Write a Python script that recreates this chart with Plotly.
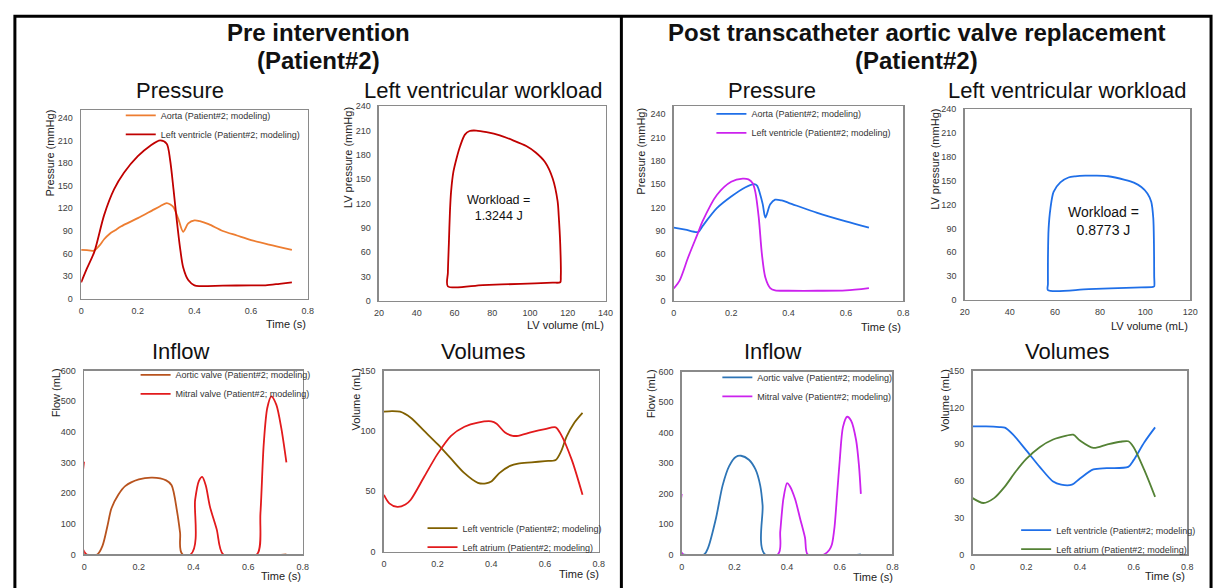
import plotly.graph_objects as go

W, H = 1224, 588
FONT = "Liberation Sans, Arial, Helvetica, sans-serif"

# ---------------- DATA ----------------
# Pre intervention - Pressure (mmHg) vs time (s)
pre_aorta_t = [0, 0.02, 0.045, 0.065, 0.081, 0.1, 0.12, 0.14, 0.2, 0.25, 0.28, 0.302, 0.315, 0.326, 0.343, 0.36, 0.378, 0.4, 0.419, 0.45, 0.5, 0.55, 0.6, 0.663, 0.744]
pre_aorta_p = [65, 64.5, 64, 71, 79, 86, 91, 96, 107, 117, 123, 127, 125, 121.5, 106, 89, 100, 104, 103, 99, 90, 84, 78, 72, 65]
pre_lv_t = [0, 0.02, 0.047, 0.081, 0.116, 0.151, 0.2, 0.244, 0.279, 0.302, 0.314, 0.326, 0.337, 0.349, 0.36, 0.378, 0.4, 0.42, 0.5, 0.6, 0.651, 0.7, 0.744]
pre_lv_p = [22, 40, 63, 111, 145, 167, 189, 203, 210, 205.6, 184, 145, 106, 68, 42, 25, 18, 17, 17.5, 18, 18, 20, 22]

# Pre intervention - LV pressure-volume loop
pre_loop_v = [56.5, 75, 95, 112, 116, 116.3, 116, 115.2, 114.6, 112, 108, 103, 98, 91, 84, 77, 71.5, 68, 65.5, 63, 61, 59.4, 58.2, 57.6, 57, 56.5, 56.5]
pre_loop_p = [18, 19.5, 21, 22.5, 23, 30, 70, 105, 123, 151, 171, 183, 191, 198, 204, 208, 210, 209.5, 205, 191, 175, 159, 135, 111, 70, 35, 18]
pre_workload = "1.3244 J"

# Pre intervention - Inflow (mL)
pre_av_t = [0, 0.048, 0.067, 0.085, 0.1, 0.125, 0.15, 0.2, 0.25, 0.3, 0.32, 0.34, 0.351, 0.36, 0.74]
pre_av_q = [0, 0, 28, 92, 151, 195, 223, 245, 251, 242, 226, 140, 71, 0, 0]
pre_mv_t = [0, 0.008, 0.39, 0.406, 0.42, 0.432, 0.445, 0.46, 0.485, 0.509, 0.632, 0.645, 0.657, 0.67, 0.685, 0.703, 0.721, 0.74]
pre_mv_q = [303, 0, 0, 178, 240, 253, 225, 157, 82, 0, 0, 135, 360, 478, 516, 489, 414, 301]

# Pre intervention - Volumes (mL)
pre_vol_lv_t = [0, 0.03, 0.06, 0.1, 0.15, 0.2, 0.25, 0.3, 0.35, 0.38, 0.4, 0.43, 0.47, 0.5, 0.55, 0.6, 0.64, 0.66, 0.68, 0.71, 0.74]
pre_vol_lv = [116, 116.5, 116, 111, 100, 89, 77, 65, 57, 56.5, 58, 65, 71, 73, 74, 75, 76, 83, 95, 107, 115]
pre_vol_la_t = [0, 0.02, 0.05, 0.08, 0.1, 0.15, 0.2, 0.25, 0.3, 0.35, 0.4, 0.42, 0.45, 0.48, 0.5, 0.55, 0.6, 0.64, 0.66, 0.7, 0.74]
pre_vol_la = [47, 40, 37, 39, 43, 62, 81, 96, 103.5, 107, 108, 106, 99, 96, 96, 99, 101.5, 103, 97, 76, 47]

# Post TAVR - Pressure
post_aorta_t = [0, 0.04, 0.085, 0.1, 0.15, 0.2, 0.25, 0.28, 0.29, 0.3, 0.31, 0.319, 0.336, 0.353, 0.376, 0.4, 0.5, 0.6, 0.68]
post_aorta_p = [94, 91.5, 88.5, 96, 119, 134, 146, 150, 148, 138, 124, 107, 124, 130, 129, 126, 113, 102, 94]
post_lv_t = [0, 0.02, 0.05, 0.085, 0.1, 0.15, 0.2, 0.24, 0.26, 0.275, 0.284, 0.296, 0.307, 0.319, 0.336, 0.353, 0.4, 0.5, 0.6, 0.68]
post_lv_p = [16, 26, 56, 88, 102, 136, 153, 157, 156, 151, 140, 107, 60, 30, 16.5, 13.5, 13, 13, 13.5, 16.5]

# Post TAVR - LV pressure-volume loop
post_loop_v = [56.9, 75, 95, 103.5, 104, 104, 103.9, 103.6, 102.7, 101, 98.3, 95, 91, 83.6, 78, 73.4, 69, 66, 62.4, 59.4, 58, 57.2, 56.9, 56.9, 56.9]
post_loop_p = [12.3, 13.5, 15.5, 16.3, 17, 30, 70, 103, 123.5, 134, 142, 147.5, 151, 155.6, 156.4, 156.4, 155.5, 154, 148, 136, 115, 90, 50, 20, 12.3]
post_workload = "0.8773 J"

# Post TAVR - Inflow
post_av_t = [0, 0.085, 0.1, 0.13, 0.155, 0.18, 0.205, 0.225, 0.255, 0.28, 0.298, 0.307, 0.316, 0.68]
post_av_q = [0, 0, 22, 119, 226, 290, 320, 324, 311, 279, 226, 161, 0, 0]
post_mv_t = [0, 0.005, 0.365, 0.374, 0.386, 0.4, 0.41, 0.43, 0.449, 0.468, 0.478, 0.54, 0.56, 0.57, 0.58, 0.59, 0.6, 0.612, 0.628, 0.643, 0.662, 0.673, 0.68]
post_mv_q = [199, 0, 0, 76, 183, 234, 225, 183, 119, 55, 0, 0, 15, 33, 90, 200, 311, 418, 452, 439, 375, 290, 199]

# Post TAVR - Volumes
post_vol_lv_t = [0, 0.05, 0.1, 0.12, 0.15, 0.2, 0.25, 0.3, 0.33, 0.37, 0.4, 0.45, 0.5, 0.58, 0.6, 0.64, 0.68]
post_vol_lv = [104.5, 104.5, 104, 103.5, 98, 85, 71.5, 59.5, 57, 57, 62, 69.4, 70.4, 71.5, 77, 91.6, 103.7]
post_vol_la_t = [0, 0.04, 0.08, 0.12, 0.16, 0.2, 0.25, 0.3, 0.35, 0.375, 0.4, 0.45, 0.5, 0.55, 0.58, 0.6, 0.64, 0.68]
post_vol_la = [46, 42, 46, 55.4, 67.5, 78, 87.6, 93.8, 97, 97.8, 93, 87, 89.7, 92, 92.4, 87.6, 68.8, 47]

time_ticks = [0, 0.2, 0.4, 0.6, 0.8]
pressure_ticks = [0, 30, 60, 90, 120, 150, 180, 210, 240]
pre_vol_xticks = [20, 40, 60, 80, 100, 120, 140]
post_vol_xticks = [20, 40, 60, 80, 100, 120]
flow_ticks = [0, 100, 200, 300, 400, 500, 600]
pre_volume_ticks = [0, 50, 100, 150]
post_volume_ticks = [0, 30, 60, 90, 120, 150]

# ---------------- FIGURE ----------------
def fx(p):
    return p / W

def fy(p):
    return 1 - p / H

panels = {
    1: dict(x=(77, 306), y=(107, 299), xr=[0, 0.8], yr=[0, 250], xt=time_ticks, yt=pressure_ticks),
    2: dict(x=(378, 607), y=(103, 301), xr=[20, 140], yr=[0, 240], xt=pre_vol_xticks, yt=pressure_ticks),
    3: dict(x=(80, 301), y=(372, 559), xr=[0, 0.8], yr=[0, 600], xt=time_ticks, yt=flow_ticks),
    4: dict(x=(383, 600), y=(372, 556), xr=[0, 0.8], yr=[0, 150], xt=time_ticks, yt=pre_volume_ticks),
    5: dict(x=(676, 908), y=(103, 301), xr=[0, 0.8], yr=[0, 250], xt=time_ticks, yt=pressure_ticks),
    6: dict(x=(970, 1198), y=(106, 300), xr=[20, 120], yr=[0, 240], xt=post_vol_xticks, yt=pressure_ticks),
    7: dict(x=(684, 897), y=(373, 559), xr=[0, 0.8], yr=[0, 600], xt=time_ticks, yt=flow_ticks),
    8: dict(x=(978, 1195), y=(372, 559), xr=[0, 0.8], yr=[0, 150], xt=time_ticks, yt=post_volume_ticks),
}

fig = go.Figure()

C_ORANGE = "#ED7D31"
C_DARKRED = "#C00000"
C_BROWN = "#B8531E"
C_RED = "#E21A1C"
C_OLIVE = "#806000"
C_BLUE = "#1F6FE8"
C_STEEL = "#2E75B6"
C_MAGENTA = "#CC22EE"
C_GREEN = "#548235"


def add(i, x, y, name, color, legend=None, show=True):
    ax = "" if i == 1 else str(i)
    fig.add_trace(go.Scatter(
        x=x, y=y, name=name, mode="lines",
        line=dict(color=color, width=1.8, shape="spline", smoothing=0.8),
        xaxis="x" + ax, yaxis="y" + ax,
        showlegend=show, legend=legend,
    ))


add(1, pre_aorta_t, pre_aorta_p, "Aorta (Patient#2; modeling)", C_ORANGE, "legend")
add(1, pre_lv_t, pre_lv_p, "Left ventricle (Patient#2; modeling)", C_DARKRED, "legend")
add(2, pre_loop_v, pre_loop_p, "PV loop", C_DARKRED, show=False)
add(3, pre_av_t, pre_av_q, "Aortic valve (Patient#2; modeling)", C_BROWN, "legend2")
add(3, pre_mv_t, pre_mv_q, "Mitral valve (Patient#2; modeling)", C_RED, "legend2")
add(4, pre_vol_lv_t, pre_vol_lv, "Left ventricle (Patient#2; modeling)", C_OLIVE, "legend3")
add(4, pre_vol_la_t, pre_vol_la, "Left atrium (Patient#2; modeling)", C_RED, "legend3")
add(5, post_aorta_t, post_aorta_p, "Aorta (Patient#2; modeling)", C_BLUE, "legend4")
add(5, post_lv_t, post_lv_p, "Left ventricle (Patient#2; modeling)", C_MAGENTA, "legend4")
add(6, post_loop_v, post_loop_p, "PV loop", C_BLUE, show=False)
add(7, post_av_t, post_av_q, "Aortic valve (Patient#2; modeling)", C_STEEL, "legend5")
add(7, post_mv_t, post_mv_q, "Mitral valve (Patient#2; modeling)", C_MAGENTA, "legend5")
add(8, post_vol_lv_t, post_vol_lv, "Left ventricle (Patient#2; modeling)", C_BLUE, "legend6")
add(8, post_vol_la_t, post_vol_la, "Left atrium (Patient#2; modeling)", C_GREEN, "legend6")

layout = dict(
    width=W, height=H,
    margin=dict(l=0, r=0, t=0, b=0),
    paper_bgcolor="white", plot_bgcolor="white",
    font=dict(family=FONT, color="#222222"),
    hovermode=False,
)

axis_common = dict(showgrid=False, zeroline=False, showline=True, mirror=True,
                   linecolor="#8A8A8A", linewidth=1.5, ticks="",
                   tickfont=dict(family=FONT, size=9, color="#404040"),
                   ticklabelstandoff=3, fixedrange=True)

for i, p in panels.items():
    ax = "" if i == 1 else str(i)
    layout["xaxis" + ax] = dict(axis_common, domain=[fx(p["x"][0]), fx(p["x"][1])],
                                range=p["xr"], tickvals=p["xt"], anchor="y" + ax)
    layout["yaxis" + ax] = dict(axis_common, domain=[fy(p["y"][1]), fy(p["y"][0])],
                                range=p["yr"], tickvals=p["yt"], anchor="x" + ax,
                                ticklabelstandoff=5)

# legends: (text start x px, centre y px)
legend_pos = {"legend": (157, 121.5), "legend2": (172, 385.5), "legend3": (462, 541.5),
              "legend4": (754, 120), "legend5": (760, 388), "legend6": (1062, 543.5)}
for key, (tx, cy) in legend_pos.items():
    layout[key] = dict(x=fx(tx - 40), xanchor="left", y=fy(cy - 24), yanchor="top",
                       bgcolor="rgba(0,0,0,0)", borderwidth=0, itemwidth=30,
                       font=dict(family=FONT, size=9, color="#333333"),
                       tracegroupgap=0)

fig.update_layout(**layout)

ann = []

def text(x, y, s, size, bold=False, xanchor="center", yanchor="middle", angle=0, color="#111111"):
    ann.append(dict(x=fx(x), y=fy(y), xref="paper", yref="paper", text=("<b>%s</b>" % s) if bold else s,
                    showarrow=False, xanchor=xanchor, yanchor=yanchor, textangle=angle,
                    font=dict(family=FONT, size=size, color=color)))

# main titles
text(316.5, 28, "Pre intervention", 24, bold=True)
text(316.5, 56, "(Patient#2)", 24, bold=True)
text(921.5, 28, "Post transcatheter aortic valve replacement", 24, bold=True)
text(921.5, 56, "(Patient#2)", 24, bold=True)

# subplot titles
for (x, y, s) in [(177, 87, "Pressure"), (483, 87, "Left ventricular workload"),
                  (178, 353, "Inflow"), (483, 353, "Volumes"),
                  (775, 87, "Pressure"), (1073, 87, "Left ventricular workload"),
                  (776, 353, "Inflow"), (1073, 353, "Volumes")]:
    text(x, y, s, 22)

# y axis titles
for (x, y, s) in [(45, 150.5, "Pressure (mmHg)"), (347, 155.5, "LV pressure (mmHg)"),
                  (51, 394.5, "Flow (mL)"), (355, 401, "Volume (mL)"),
                  (643, 149, "Pressure (mmHg)"), (940, 157.5, "LV pressure (mmHg)"),
                  (653, 396, "Flow (mL)"), (950, 402.5, "Volume (mL)")]:
    text(x, y, s, 11, angle=-90, color="#222222")

# x axis titles
for (x, y, s) in [(306, 325, "Time (s)"), (607, 326, "LV volume (mL)"),
                  (301, 581, "Time (s)"), (602, 579, "Time (s)"),
                  (908, 328, "Time (s)"), (1198, 327, "LV volume (mL)"),
                  (900, 582, "Time (s)"), (1195, 581, "Time (s)")]:
    text(x, y, s, 11, xanchor="right", color="#222222")

# workload labels
text(499, 206.5, "Workload =<br>" + pre_workload, 12.5)
text(1110, 219.5, "Workload =<br>" + post_workload, 14)

fig.update_layout(annotations=ann)

# outer frame and divider
fig.add_shape(type="rect", xref="paper", yref="paper", x0=fx(10), x1=fx(1219), y0=fy(600), y1=fy(11.5),
              line=dict(color="black", width=3), layer="above")
fig.add_shape(type="line", xref="paper", yref="paper", x0=fx(623), x1=fx(623), y0=fy(600), y1=fy(11.5),
              line=dict(color="black", width=3), layer="above")

fig.write_html("out.html", config={"displayModeBar": False, "staticPlot": True},
               post_script="document.body.style.margin='0';document.body.style.padding='0';"
                           "document.documentElement.style.overflow='hidden';")
